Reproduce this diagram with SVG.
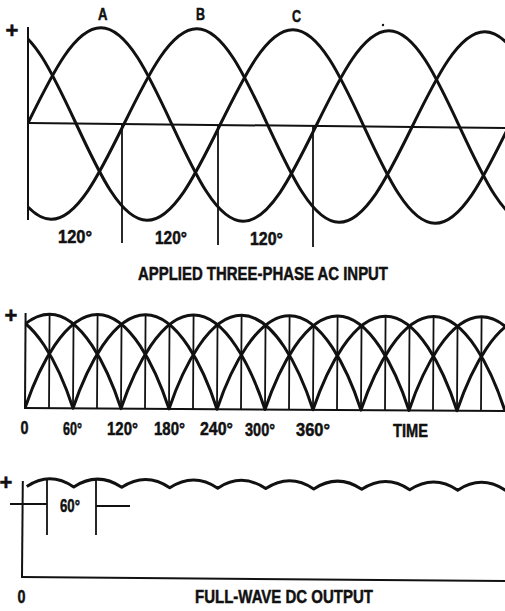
<svg xmlns="http://www.w3.org/2000/svg" width="505" height="611" viewBox="0 0 505 611">
<style>
.w{fill:none;stroke:#111;stroke-width:3;stroke-linejoin:round}
.ax{fill:none;stroke:#111;stroke-width:2}
.vl{fill:none;stroke:#111;stroke-width:1.8}
.t{font-family:"Liberation Sans",Arial,sans-serif;font-weight:bold;fill:#111;stroke:#111;stroke-width:0.5}
</style>
<defs>
<clipPath id="topclip"><rect x="29" y="0" width="476" height="240"/></clipPath>
<clipPath id="midclip"><rect x="25" y="300" width="480" height="112"/></clipPath>
</defs>
<rect width="505" height="611" fill="#fff"/>

<g id="top-panel">
  <line class="ax" x1="28" y1="27" x2="28" y2="220"/>
  <g clip-path="url(#topclip)">
    <g transform="rotate(0.6 28 123)">
      <line class="ax" x1="28" y1="123" x2="520" y2="123"/>
      <path id="wave-A" class="w" d="M28,123 c24.07,-50.41 46.06,-96 72,-96 c25.94,0 47.93,45.59 72,96 c24.07,50.41 46.06,96 72,96 c25.94,0 47.93,-45.59 72,-96 c24.07,-50.41 46.06,-96 72,-96 c25.94,0 47.930,45.59 72,96 c24.07,50.41 46.06,96 72,96 c25.94,0 47.93,-45.59 72,-96"/>
      <path id="wave-B" class="w" d="M-164,123 c24.07,-50.41 46.06,-96 72,-96 c25.94,0 47.93,45.59 72,96 c24.07,50.41 46.06,96 72,96 c25.94,0 47.93,-45.59 72,-96 c24.07,-50.41 46.06,-96 72,-96 c25.94,0 47.93,45.59 72,96 c24.07,50.41 46.06,96 72,96 c25.94,0 47.93,-45.59 72,-96 c24.07,-50.41 46.06,-96 72,-96 c25.94,0 47.93,45.59 72,96 c24.07,50.41 46.06,96 72,96 c25.94,0 47.93,-45.59 72,-96"/>
      <path id="wave-C" class="w" d="M-68,123 c24.07,-50.41 46.06,-96 72,-96 c25.94,0 47.93,45.59 72,96 c24.07,50.41 46.06,96 72,96 c25.94,0 47.93,-45.59 72,-96 c24.07,-50.41 46.06,-96 72,-96 c25.94,0 47.93,45.59 72,96 c24.07,50.41 46.06,96 72,96 c25.94,0 47.93,-45.59 72,-96 c24.07,-50.41 46.06,-96 72,-96 c25.94,0 47.93,45.59 72,96 c24.07,50.41 46.06,96 72,96 c25.94,0 47.93,-45.59 72,-96"/>
    </g>
  </g>
  <line class="vl" x1="122" y1="124" x2="122" y2="243"/>
  <line class="vl" x1="218" y1="125" x2="218" y2="245"/>
  <line class="vl" x1="313" y1="126" x2="313" y2="247"/>
  <circle cx="383" cy="25" r="1.2" fill="#111"/>
  <text class="t" x="12" y="37.5" font-size="22" text-anchor="middle">+</text>
  <text class="t" x="98" y="19.5" font-size="16" textLength="9.5" lengthAdjust="spacingAndGlyphs">A</text>
  <text class="t" x="196" y="19.5" font-size="16" textLength="9" lengthAdjust="spacingAndGlyphs">B</text>
  <text class="t" x="292" y="21.5" font-size="16" textLength="9" lengthAdjust="spacingAndGlyphs">C</text>
  <text class="t" x="58" y="243" font-size="18" textLength="34" lengthAdjust="spacingAndGlyphs">120°</text>
  <text class="t" x="155" y="244" font-size="18" textLength="32" lengthAdjust="spacingAndGlyphs">120°</text>
  <text class="t" x="250" y="245" font-size="18" textLength="33" lengthAdjust="spacingAndGlyphs">120°</text>
  <text class="t" x="138" y="280" font-size="19" textLength="250" lengthAdjust="spacingAndGlyphs">APPLIED THREE-PHASE AC INPUT</text>
</g>

<g id="middle-panel">
  <g transform="rotate(0.36 25 408)">
    <line class="ax" x1="25" y1="313" x2="25" y2="409"/>
    <line class="ax" x1="24" y1="408" x2="505" y2="408"/>
    <g clip-path="url(#midclip)">
      <path class="w" d="M-71,408 c14,-42.3 40,-94 72,-94 c32,0 58,51.7 72,94 c14,-42.3 40,-94 72,-94 c32,0 58,51.7 72,94 c14,-42.3 40,-94 72,-94 c32,0 58,51.7 72,94 c14,-42.3 40,-94 72,-94 c32,0 58,51.7 72,94"/>
      <path class="w" d="M-23,408 c14,-42.3 40,-94 72,-94 c32,0 58,51.7 72,94 c14,-42.3 40,-94 72,-94 c32,0 58,51.7 72,94 c14,-42.3 40,-94 72,-94 c32,0 58,51.7 72,94 c14,-42.3 40,-94 72,-94 c32,0 58,51.7 72,94"/>
      <path class="w" d="M25,408 c14,-42.3 40,-94 72,-94 c32,0 58,51.7 72,94 c14,-42.3 40,-94 72,-94 c32,0 58,51.7 72,94 c14,-42.3 40,-94 72,-94 c32,0 58,51.7 72,94 c14,-42.3 40,-94 72,-94 c32,0 58,51.7 72,94"/>
    </g>
    <path class="vl" d="M49,408V314 M97,408V314 M145,408V314 M193,408V314 M241,408V314 M289,408V314 M337,408V314 M385,408V314 M433,408V314 M481,408V314 M73,408V324 M121,408V324 M169,408V324 M217,408V324 M265,408V324 M313,408V324 M361,408V324 M409,408V324 M457,408V324"/>
  </g>
  <text class="t" x="11" y="322.5" font-size="22" text-anchor="middle">+</text>
  <text class="t" x="20.5" y="434" font-size="19" textLength="8" lengthAdjust="spacingAndGlyphs">0</text>
  <text class="t" x="63" y="435" font-size="19" textLength="19" lengthAdjust="spacingAndGlyphs">60°</text>
  <text class="t" x="107" y="435" font-size="19" textLength="31" lengthAdjust="spacingAndGlyphs">120°</text>
  <text class="t" x="154" y="435" font-size="19" textLength="31" lengthAdjust="spacingAndGlyphs">180°</text>
  <text class="t" x="200" y="435" font-size="19" textLength="33" lengthAdjust="spacingAndGlyphs">240°</text>
  <text class="t" x="245" y="436" font-size="19" textLength="30" lengthAdjust="spacingAndGlyphs">300°</text>
  <text class="t" x="296" y="436" font-size="19" textLength="34" lengthAdjust="spacingAndGlyphs">360°</text>
  <text class="t" x="393" y="437" font-size="19" textLength="35" lengthAdjust="spacingAndGlyphs">TIME</text>
</g>

<g id="bottom-panel">
  <g transform="rotate(0.48 22 577)">
    <line class="ax" x1="22" y1="481" x2="22" y2="578"/>
    <line class="ax" x1="21" y1="577" x2="505" y2="577"/>
    <path class="w" stroke-width="2.6" d="M26,486.5 q23,-16 47,0 q24,-16 48,0 q24,-16 48,0 q24,-16 48,0 q24,-16 48,0 q24,-16 48,0 q24,-16 48,0 q24,-16 48,0 q24,-16 48,0 q24,-16 48,0"/>
  </g>
  <path class="vl" d="M47,479V535 M96,480V535 M10,504H47 M96,506H130"/>
  <text class="t" x="6" y="490" font-size="22" text-anchor="middle">+</text>
  <text class="t" x="60" y="512" font-size="19" textLength="20" lengthAdjust="spacingAndGlyphs">60°</text>
  <text class="t" x="17.5" y="603" font-size="19" textLength="8" lengthAdjust="spacingAndGlyphs">0</text>
  <text class="t" x="195" y="603" font-size="19" textLength="178" lengthAdjust="spacingAndGlyphs">FULL-WAVE DC OUTPUT</text>
</g>
</svg>
